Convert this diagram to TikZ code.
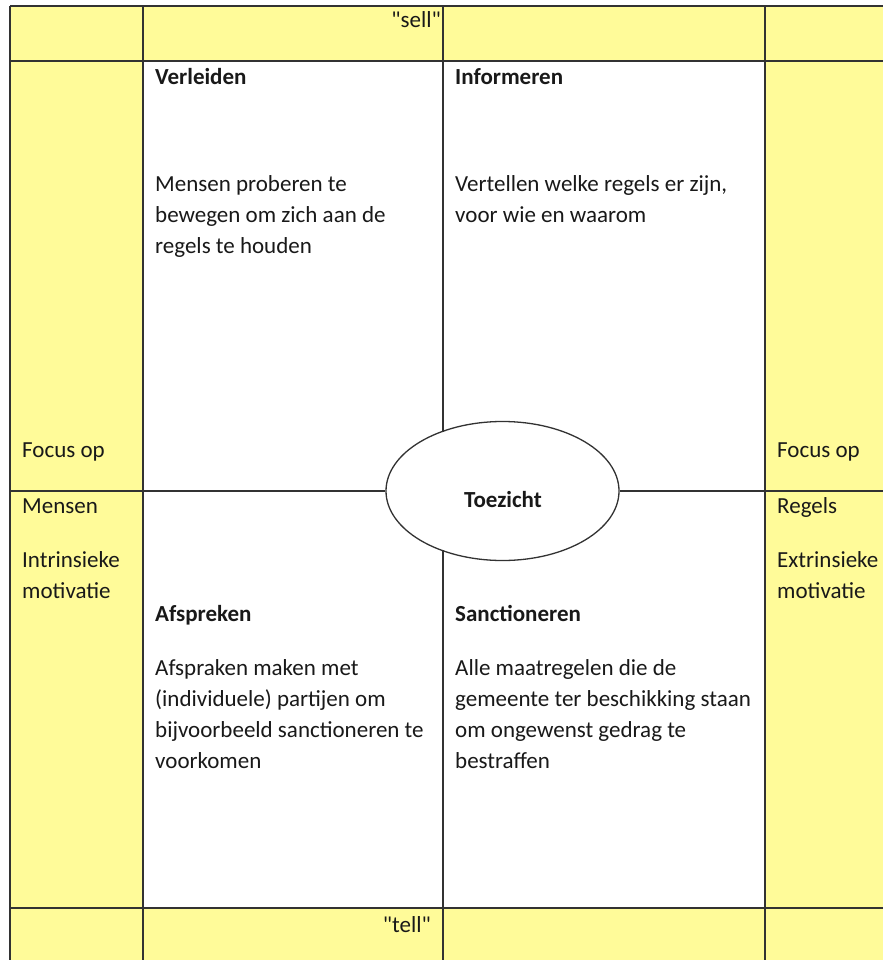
\documentclass[tikz,border=0pt]{standalone}
\usepackage{fontspec}
\setmainfont{Carlito}[Ligatures=TeXOff]
\usetikzlibrary{shapes.geometric}
\definecolor{cellyellow}{RGB}{255,251,153}
\definecolor{gridline}{RGB}{50,50,50}
\definecolor{txt}{RGB}{25,25,25}
\tikzset{
  grid/.style={draw=gridline, line width=1.3pt},
  body/.style={anchor=base west, inner sep=0pt, align=left, text=txt,
    font=\fontsize{23}{31.3}\selectfont},
  head/.style={body, font=\fontsize{23}{31.3}\selectfont\bfseries},
}
\begin{document}
\begin{tikzpicture}[x=1pt,y=-1pt]
\useasboundingbox (0,0) rectangle (883,960);
\fill[white] (0,0) rectangle (883,960);
% yellow areas
\fill[cellyellow] (10,6) rectangle (883,61);
\fill[cellyellow] (10,908) rectangle (883,960);
\fill[cellyellow] (10,61) rectangle (143,908);
\fill[cellyellow] (765,61) rectangle (883,908);
% grid lines
\draw[grid] (10,6) -- (883,6);
\draw[grid] (10,61) -- (883,61);
\draw[grid] (10,908) -- (883,908);
\draw[grid] (10,6) -- (10,960);
\draw[grid] (143,6) -- (143,960);
\draw[grid] (765,6) -- (765,960);
\draw[grid] (443,6) -- (443,61);
\draw[grid] (443,908) -- (443,960);
% centre ellipse
\node[ellipse, draw=gridline, line width=1.3pt, fill=white, minimum width=233pt, minimum height=139pt, inner sep=0pt] (ell) at (502.5,491) {};
\node[anchor=center, inner sep=0pt, text=txt, font=\fontsize{23}{27}\selectfont\bfseries] (toez) at (503,500) {Toezicht};
\coordinate (ctop) at (443,61);
\coordinate (cup) at (443,431.7);
\coordinate (clow) at (443,550.3);
\coordinate (cbot) at (443,908);
\coordinate (mleft) at (10,491);
\coordinate (mright) at (883,491);
\draw[grid] (ctop) -- (cup);
\draw[grid] (clow) -- (cbot);
\draw[grid] (mleft) -- (ell.west);
\draw[grid] (ell.east) -- (mright);
% top and bottom labels (base = last line)
\node[anchor=base east, inner sep=0pt, text=txt, font=\fontsize{23}{27}\selectfont] (sell) at (441,28) {"sell"};
\node[anchor=base east, inner sep=0pt, text=txt, font=\fontsize{23}{27}\selectfont] (tell) at (431,932) {"tell"};
% quadrants
\node[head] (verl) at (155,85) {Verleiden};
\node[body] (verlt) at (155,253.6) {Mensen proberen te\\bewegen om zich aan de\\regels te houden};
\node[head] (info) at (455,85) {Informeren};
\node[body] (infot) at (455,222.3) {Vertellen welke regels er zijn,\\voor wie en waarom};
\node[head] (afsp) at (155,621) {Afspreken};
\node[body] (afspt) at (155,768.9) {Afspraken maken met\\(individuele) partijen om\\bijvoorbeeld sanctioneren te\\voorkomen};
\node[head] (sanc) at (455,621) {Sanctioneren};
\node[body] (sanct) at (455,768.9) {Alle maatregelen die de\\gemeente ter beschikking staan\\om ongewenst gedrag te\\bestraffen};
% side columns
\node[body] (lfoc) at (22,457) {Focus op};
\node[body] (lmen) at (22,513) {Mensen};
\node[body] (lint) at (22,598.3) {Intrinsieke\\motivatie};
\node[body] (rfoc) at (777,457) {Focus op};
\node[body] (rreg) at (777,513) {Regels};
\node[body] (rext) at (777,598.3) {Extrinsieke\\motivatie};
\end{tikzpicture}
\end{document}
